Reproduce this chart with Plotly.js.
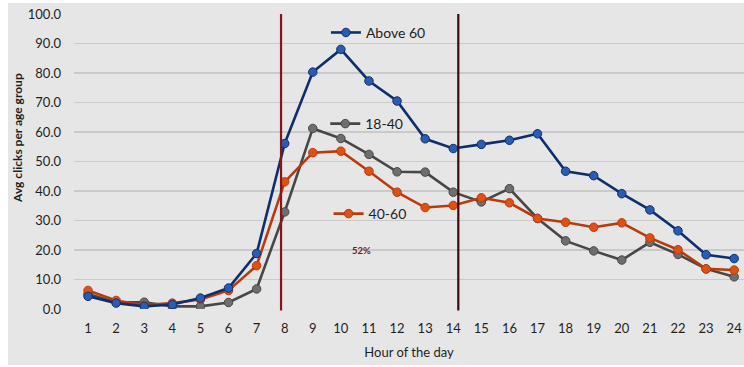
<!DOCTYPE html>
<html>
<head>
<meta charset="utf-8">
<script src="https://cdn.plot.ly/plotly-3.0.1.min.js"></script>
<style>
  html, body { margin: 0; padding: 0; background: #ffffff; width: 744px; height: 367px; overflow: hidden; }
  #chart { position: absolute; left: 8px; top: 3px; width: 736px; height: 362px; }
</style>
</head>
<body>
<div id="chart"></div>
<script>
// Hour of the day (1..24)
const hours = [1,2,3,4,5,6,7,8,9,10,11,12,13,14,15,16,17,18,19,20,21,22,23,24];

// Average clicks per age group
const above60 = [4.3,2.0,0.9,1.5,3.7,7.1,18.8,56.1,80.3,88.0,77.3,70.5,57.7,54.4,55.8,57.2,59.4,46.7,45.2,39.1,33.6,26.5,18.4,17.1];
const age18to40 = [5.1,2.3,2.3,0.9,0.9,2.2,6.8,32.9,61.2,57.8,52.4,46.5,46.4,39.6,36.3,40.8,30.7,23.1,19.7,16.6,22.6,18.5,13.6,10.9];
const age40to60 = [6.3,2.9,1.3,2.0,3.2,6.3,14.7,43.1,53.0,53.5,46.7,39.6,34.4,35.1,37.7,36.0,30.7,29.4,27.7,29.2,24.1,20.1,13.6,13.2];

// Window markers (hour positions) and note
const windowHours = [7.87, 14.18];
const windowColors = ['#8a1418', '#3e0a0e'];
const noteText = '52%';
const noteX = 10.75, noteY = 19.8;

const BG = '#e6e6e6';
const FONT = 'Lato, "Open Sans", sans-serif';

function series(name, y, lineColor, markerColor, legendId) {
  return {
    x: hours, y: y, name: name, type: 'scatter', mode: 'lines+markers',
    line: { color: lineColor, width: 2.6 },
    marker: { color: markerColor, size: 8.5, line: { color: lineColor, width: 1 } },
    legend: legendId, showlegend: true, hoverinfo: 'x+y+name'
  };
}

const traces = [
  series('18-40', age18to40, '#474747', '#6e6e6e', 'legend2'),
  series('40-60', age40to60, '#bb3a0c', '#dd5214', 'legend3'),
  series('Above 60', above60, '#0e2f6e', '#2a5cb3', 'legend')
];

function legendBox(x, y) {
  return {
    x: x, y: y, xanchor: 'left', yanchor: 'middle',
    bgcolor: 'rgba(0,0,0,0)', borderwidth: 0,
    font: { family: FONT, size: 14, color: '#1e1e1e' },
    itemclick: false, itemdoubleclick: false
  };
}

const shapes = windowHours.map((h, i) => ({
  type: 'line', xref: 'x', yref: 'paper',
  x0: h, x1: h, y0: -0.005, y1: 1.0,
  line: { color: windowColors[i], width: 2.2 }
}));

const layout = {
  width: 736, height: 362,
  margin: { l: 66, r: 0, t: 11, b: 56 },
  paper_bgcolor: BG, plot_bgcolor: BG,
  font: { family: FONT, color: '#262626' },
  showlegend: true,
  legend: legendBox(0.376, 0.936),
  legend2: legendBox(0.375, 0.627),
  legend3: legendBox(0.380, 0.322),
  xaxis: {
    range: [0.5, 24.35],
    tickmode: 'array', tickvals: hours, ticktext: hours.map(String),
    showgrid: false, zeroline: false, showline: false,
    ticks: '', ticklabelstandoff: 10,
    tickfont: { family: FONT, size: 13, color: '#1f1f1f' },
    title: { text: 'Hour of the day', font: { family: FONT, size: 13, color: '#1f1f1f' }, standoff: 12 }
  },
  yaxis: {
    range: [0, 100], tickmode: 'array',
    tickvals: [0,10,20,30,40,50,60,70,80,90,100],
    ticktext: ['0.0','10.0','20.0','30.0','40.0','50.0','60.0','70.0','80.0','90.0','100.0'],
    showgrid: true, gridcolor: '#cacaca', gridwidth: 1.5,
    zeroline: false, showline: false, ticks: '', ticklabelstandoff: 12,
    tickfont: { family: FONT, size: 13, color: '#1f1f1f' }
  },
  shapes: shapes,
  annotations: [
    {
      x: noteX, y: noteY, xref: 'x', yref: 'y', text: '<b>' + noteText + '</b>',
      showarrow: false, font: { family: FONT, size: 9.5, color: '#7a1421' }
    },
    {
      // y-axis title
      x: -0.0836, y: 0.58, xref: 'paper', yref: 'paper', xanchor: 'center', yanchor: 'middle',
      text: '<b>Avg clicks per age group</b>', textangle: -90, showarrow: false,
      font: { family: FONT, size: 12, color: '#1f1f1f' }
    }
  ]
};

Plotly.newPlot('chart', traces, layout, { displayModeBar: false, staticPlot: true });
</script>
</body>
</html>
